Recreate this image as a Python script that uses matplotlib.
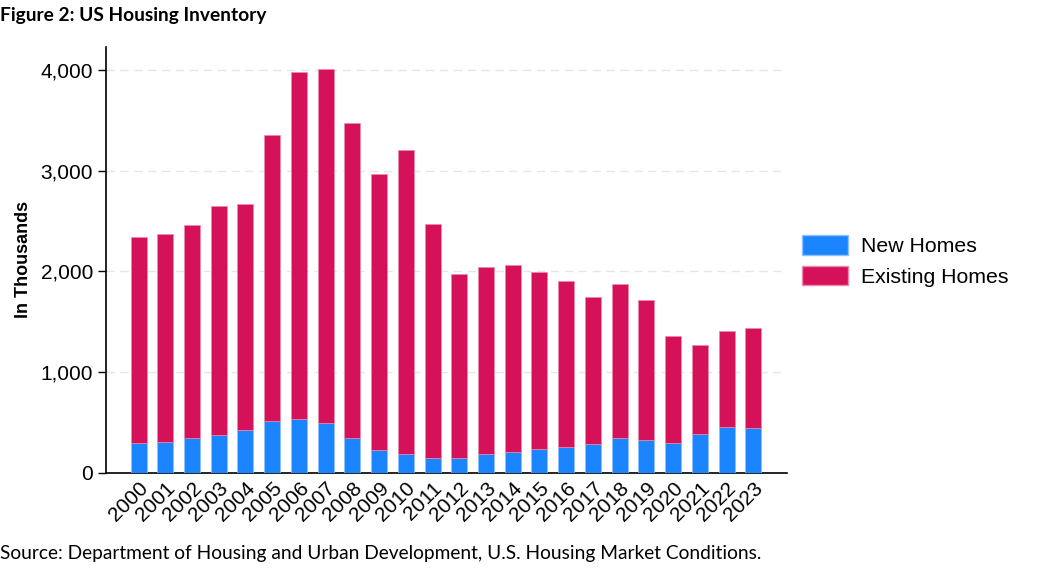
import matplotlib
matplotlib.use("Agg")
import matplotlib.pyplot as plt
from matplotlib.patches import Patch

years = [str(y) for y in range(2000, 2024)]
new_homes = [298, 308, 344, 374, 430, 513, 533, 493, 351, 232, 185, 149,
             149, 185, 212, 235, 255, 291, 347, 328, 298, 390, 453, 450]
total_inventory = [2346, 2376, 2462, 2647, 2673, 3355, 3983, 4013, 3477, 2971, 3209, 2471,
                   1975, 2045, 2068, 1995, 1902, 1750, 1876, 1714, 1360, 1274, 1413, 1439]
existing_homes = [t - n for t, n in zip(total_inventory, new_homes)]
yticks = [0, 1000, 2000, 3000, 4000]

BLUE = "#1A85FF"
RED = "#D41159"

plt.rcParams['font.family'] = ['Liberation Sans', 'DejaVu Sans']

fig = plt.figure(figsize=(10.44, 5.81), dpi=100)
ax = fig.add_axes([0.1012, 0.1859, 0.6526, 0.7337])

x = list(range(len(years)))
ax.bar(x, new_homes, width=0.6, color=BLUE, edgecolor="#8cc0ff", linewidth=0.5, zorder=3)
ax.bar(x, existing_homes, bottom=new_homes, width=0.6, color=RED, edgecolor="#e98aac",
       linewidth=0.5, zorder=3)

ax.set_xlim(-1.23, len(years) - 1 + 1.26)
ax.set_ylim(0, 4230)
ax.set_yticks(yticks)
ax.set_yticklabels([f"{v:,}" for v in yticks], fontsize=15)
ax.set_xticks(x)
ax.set_xticklabels(years, rotation=45, ha="right", rotation_mode="anchor", fontsize=15)
ax.tick_params(axis="x", length=0, pad=4)
ax.tick_params(axis="y", length=6, width=1, pad=3)

for v in yticks[1:]:
    ax.axhline(v, color="#e6e6e6", linestyle=(0, (6, 4)), linewidth=1, zorder=1)

for s in ["top", "right"]:
    ax.spines[s].set_visible(False)
ax.spines["left"].set_linewidth(1.2)
ax.spines["bottom"].set_linewidth(1.2)

ax.set_ylabel("In Thousands", fontsize=13, fontweight="bold", labelpad=6)

handles = [Patch(facecolor=BLUE, edgecolor="#8cc0ff"), Patch(facecolor=RED, edgecolor="#e98aac")]
fig.legend(handles, ["New Homes", "Existing Homes"], loc="upper left",
           bbox_to_anchor=(0.750, 0.6285), frameon=False, fontsize=15.3,
           handlelength=2.15, handleheight=1.05, handletextpad=0.6, labelspacing=0.45)

fig.text(0.0, 0.988, "Figure 2: US Housing Inventory", fontsize=13.8, fontweight="bold",
         family=["Lato", "DejaVu Sans"], ha="left", va="top")
fig.text(0.0, 0.033, "Source: Department of Housing and Urban Development, U.S. Housing Market Conditions.",
         fontsize=13.8, family=["Lato", "DejaVu Sans"], ha="left", va="bottom")

fig.savefig("out.png", dpi=100)
